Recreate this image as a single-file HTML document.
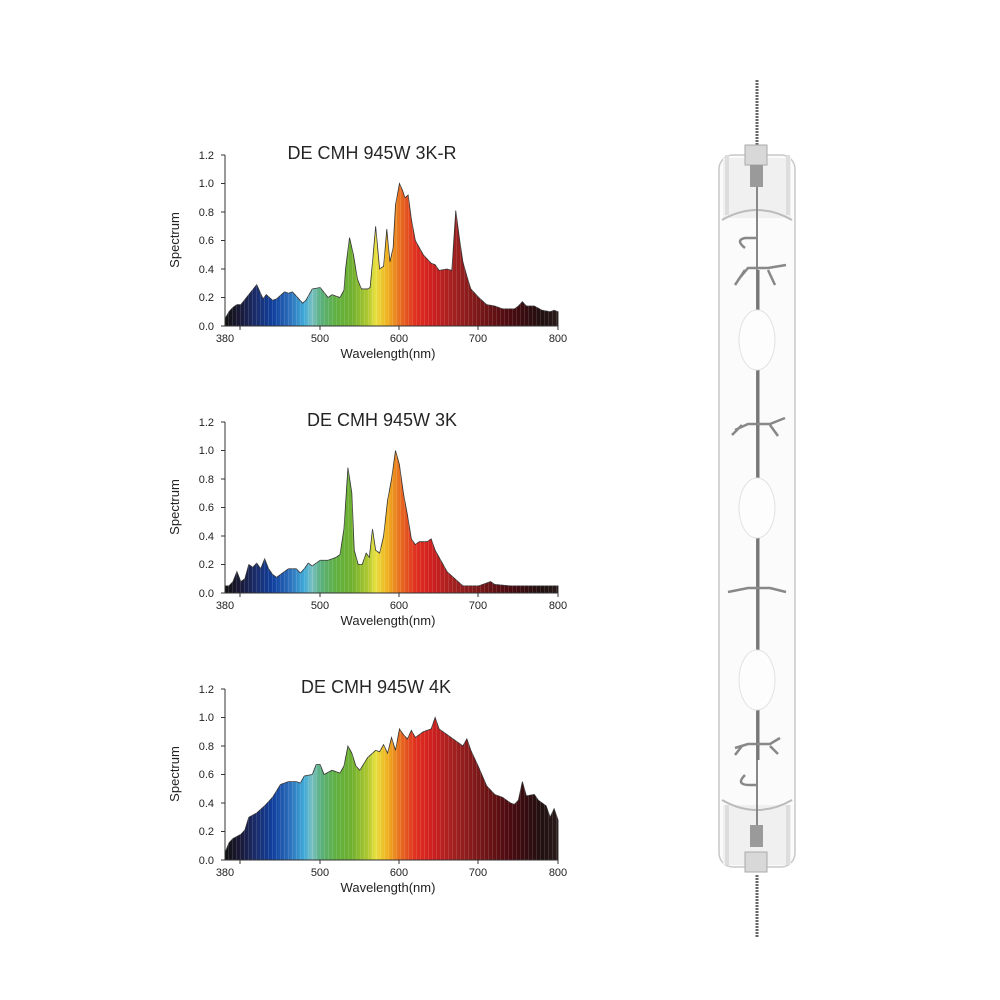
<!DOCTYPE html>
<html><head><meta charset="utf-8"><style>
html,body{margin:0;padding:0;background:#fff;}
svg{display:block;font-family:"Liberation Sans",sans-serif;}
</style></head><body>
<svg width="1000" height="1000" viewBox="0 0 1000 1000" xmlns="http://www.w3.org/2000/svg">
<defs>
<linearGradient id="sp" gradientUnits="userSpaceOnUse" x1="380" y1="0" x2="800" y2="0">
<stop offset="0" stop-color="#111"/>
<stop offset="0.048" stop-color="#1a1a3a"/>
<stop offset="0.095" stop-color="#1a2e6e"/>
<stop offset="0.143" stop-color="#10409e"/>
<stop offset="0.19" stop-color="#2a6ab8"/>
<stop offset="0.238" stop-color="#40aad8"/>
<stop offset="0.262" stop-color="#7ac0c0"/>
<stop offset="0.286" stop-color="#5ab080"/>
<stop offset="0.333" stop-color="#60b040"/>
<stop offset="0.381" stop-color="#70b030"/>
<stop offset="0.429" stop-color="#b0c830"/>
<stop offset="0.452" stop-color="#e8e040"/>
<stop offset="0.488" stop-color="#f0b020"/>
<stop offset="0.524" stop-color="#e87020"/>
<stop offset="0.571" stop-color="#e03020"/>
<stop offset="0.619" stop-color="#d02020"/>
<stop offset="0.690" stop-color="#a02020"/>
<stop offset="0.762" stop-color="#7a1818"/>
<stop offset="0.857" stop-color="#4a0a10"/>
<stop offset="0.952" stop-color="#201010"/>
<stop offset="1" stop-color="#2a1a1a"/>
</linearGradient>
<pattern id="stripes" patternUnits="userSpaceOnUse" width="4" height="10">
<rect x="0" y="0" width="1" height="10" fill="#fff" opacity="0.12"/>
</pattern>
</defs>

<!-- Chart 1 -->
<g>
<text x="372" y="159" font-size="18" text-anchor="middle" fill="#222">DE CMH 945W 3K-R</text>
<g transform="translate(225,326) scale(0.793,-142.5) translate(-380,0)">
<polygon fill="url(#sp)" stroke="#333" stroke-width="0.8" vector-effect="non-scaling-stroke" points="380,0 380,0.05 385,0.1 390,0.13 395,0.15 400,0.15 410,0.22 420,0.29 428,0.19 432,0.22 440,0.18 445,0.19 455,0.24 460,0.23 465,0.24 478,0.16 482,0.18 490,0.26 500,0.27 510,0.2 515,0.22 520,0.21 525,0.2 530,0.25 532,0.4 537,0.62 542,0.5 547,0.33 552,0.26 560,0.26 563,0.27 566,0.45 570,0.7 575,0.4 580,0.42 584,0.68 588,0.45 592,0.55 595,0.85 600,1.0 604,0.95 607,0.9 611,0.92 615,0.75 620,0.6 630,0.5 640,0.44 645,0.43 650,0.39 660,0.4 666,0.39 671,0.81 676,0.6 680,0.45 685,0.35 690,0.26 700,0.2 710,0.15 720,0.14 730,0.12 745,0.12 750,0.14 755,0.17 760,0.14 770,0.14 780,0.11 790,0.1 795,0.11 800,0.1 800,0"/>
</g>
<rect x="225" y="150" width="333" height="176" fill="url(#stripes)"/>
</g>

<!-- Chart 2 -->
<g>
<text x="382" y="426" font-size="18" text-anchor="middle" fill="#222">DE CMH 945W 3K</text>
<g transform="translate(225,593) scale(0.793,-142.5) translate(-380,0)">
<polygon fill="url(#sp)" stroke="#333" stroke-width="0.8" vector-effect="non-scaling-stroke" points="380,0 380,0.05 385,0.05 390,0.08 395,0.15 400,0.08 405,0.1 410,0.2 415,0.18 420,0.21 425,0.17 430,0.24 435,0.17 440,0.13 445,0.11 450,0.13 460,0.17 470,0.17 475,0.14 480,0.17 485,0.21 490,0.19 500,0.23 510,0.23 520,0.25 525,0.27 530,0.45 535,0.88 540,0.7 543,0.3 548,0.2 553,0.2 558,0.28 562,0.25 566,0.45 570,0.3 575,0.28 580,0.4 585,0.65 590,0.8 595,1.0 600,0.9 605,0.7 610,0.55 615,0.38 620,0.34 625,0.36 630,0.36 635,0.36 640,0.38 645,0.3 650,0.25 655,0.2 660,0.15 670,0.1 680,0.05 690,0.05 700,0.05 715,0.08 720,0.06 740,0.05 800,0.05 800,0"/>
</g>
<rect x="225" y="417" width="333" height="176" fill="url(#stripes)"/>
</g>

<!-- Chart 3 -->
<g>
<text x="376" y="693" font-size="18" text-anchor="middle" fill="#222">DE CMH 945W 4K</text>
<g transform="translate(225,860) scale(0.793,-142.5) translate(-380,0)">
<polygon fill="url(#sp)" stroke="#333" stroke-width="0.8" vector-effect="non-scaling-stroke" points="380,0 380,0.05 385,0.12 390,0.15 400,0.18 405,0.21 410,0.3 420,0.33 430,0.38 440,0.44 450,0.53 460,0.55 470,0.55 475,0.54 480,0.59 490,0.6 495,0.67 500,0.67 505,0.6 515,0.63 525,0.61 530,0.66 535,0.8 540,0.75 545,0.66 550,0.63 560,0.72 570,0.77 575,0.76 580,0.81 585,0.75 590,0.86 595,0.77 600,0.92 605,0.88 610,0.85 615,0.91 620,0.86 630,0.9 640,0.92 645,1.0 650,0.92 660,0.88 670,0.84 680,0.8 685,0.85 690,0.77 700,0.65 710,0.52 720,0.46 730,0.44 740,0.4 745,0.39 750,0.42 755,0.55 760,0.45 770,0.46 775,0.42 785,0.38 790,0.3 795,0.36 800,0.28 800,0"/>
</g>
<rect x="225" y="684" width="333" height="176" fill="url(#stripes)"/>
</g>

<!-- Axes for all three charts -->
<g stroke="#333" stroke-width="1" fill="none">
<path d="M225,155V326H558M221,155H225M221,183.5H225M221,212H225M221,240.5H225M221,269H225M221,297.5H225M221,326H225M240,326V330M320,326V330M399,326V330M478,326V330M558,326V330"/>
<path d="M225,422V593H558M221,422H225M221,450.5H225M221,479H225M221,507.5H225M221,536H225M221,564.5H225M221,593H225M240,593V597M320,593V597M399,593V597M478,593V597M558,593V597"/>
<path d="M225,689V860H558M221,689H225M221,717.5H225M221,746H225M221,774.5H225M221,803H225M221,831.5H225M221,860H225M240,860V864M320,860V864M399,860V864M478,860V864M558,860V864"/>
</g>
<g font-size="11" fill="#222" text-anchor="end">
<text x="214" y="159">1.2</text><text x="214" y="187">1.0</text><text x="214" y="216">0.8</text><text x="214" y="244">0.6</text><text x="214" y="273">0.4</text><text x="214" y="301">0.2</text><text x="214" y="330">0.0</text>
<text x="214" y="426">1.2</text><text x="214" y="454">1.0</text><text x="214" y="483">0.8</text><text x="214" y="511">0.6</text><text x="214" y="540">0.4</text><text x="214" y="568">0.2</text><text x="214" y="597">0.0</text>
<text x="214" y="693">1.2</text><text x="214" y="721">1.0</text><text x="214" y="750">0.8</text><text x="214" y="778">0.6</text><text x="214" y="807">0.4</text><text x="214" y="835">0.2</text><text x="214" y="864">0.0</text>
</g>
<g font-size="11" fill="#222" text-anchor="middle">
<text x="225" y="342">380</text><text x="320" y="342">500</text><text x="399" y="342">600</text><text x="478" y="342">700</text><text x="558" y="342">800</text>
<text x="225" y="609">380</text><text x="320" y="609">500</text><text x="399" y="609">600</text><text x="478" y="609">700</text><text x="558" y="609">800</text>
<text x="225" y="876">380</text><text x="320" y="876">500</text><text x="399" y="876">600</text><text x="478" y="876">700</text><text x="558" y="876">800</text>
<text x="388" y="358" font-size="13">Wavelength(nm)</text>
<text x="388" y="625" font-size="13">Wavelength(nm)</text>
<text x="388" y="892" font-size="13">Wavelength(nm)</text>
<text transform="translate(179,240) rotate(-90)" font-size="13">Spectrum</text>
<text transform="translate(179,507) rotate(-90)" font-size="13">Spectrum</text>
<text transform="translate(179,774) rotate(-90)" font-size="13">Spectrum</text>
</g>

<!-- Lamp -->
<g>
<path d="M757,80 L757,148" stroke="#666" stroke-width="3" stroke-dasharray="2,1"/>
<path d="M757,875 L757,938" stroke="#666" stroke-width="3" stroke-dasharray="2,1"/>
<rect x="719" y="155" width="76" height="712" rx="14" fill="#fbfbfb" stroke="#c8c8c8" stroke-width="1.5"/>
<rect x="723" y="158" width="68" height="60" fill="#f0f0f0"/>
<rect x="723" y="805" width="68" height="60" fill="#f0f0f0"/>
<rect x="725" y="155" width="4" height="60" fill="#ddd"/>
<rect x="786" y="155" width="4" height="60" fill="#ddd"/>
<rect x="725" y="805" width="4" height="60" fill="#ddd"/>
<rect x="786" y="805" width="4" height="60" fill="#ddd"/>
<path d="M722,220 Q757,200 792,220 M722,800 Q757,820 792,800" stroke="#bbb" stroke-width="2" fill="none"/>
<rect x="745" y="145" width="22" height="20" fill="#d8d8d8" stroke="#aaa"/>
<rect x="750" y="165" width="13" height="22" fill="#9a9a9a"/>
<rect x="750" y="825" width="13" height="22" fill="#9a9a9a"/>
<rect x="745" y="852" width="22" height="20" fill="#d8d8d8" stroke="#aaa"/>
<line x1="757" y1="187" x2="757" y2="825" stroke="#888" stroke-width="2"/>
<line x1="758" y1="270" x2="758" y2="760" stroke="#777" stroke-width="3"/>
<g fill="#fdfdfd" stroke="#e2e2e2" stroke-width="1">
<ellipse cx="757" cy="340" rx="18" ry="30"/>
<ellipse cx="757" cy="508" rx="18" ry="30"/>
<ellipse cx="757" cy="680" rx="18" ry="30"/>
</g>
<g stroke="#888" stroke-width="2.5" fill="none">
<path d="M738,280 L748,268 L768,268 L786,265 M745,270 L735,285 M768,270 L775,285"/>
<path d="M735,430 L748,424 L770,424 L785,418 M742,425 L732,435 M770,425 L778,436"/>
<path d="M728,592 L748,588 L770,588 L786,592"/>
<path d="M735,748 L748,744 L770,744 L780,738 M742,746 L735,755 M770,746 L778,754"/>
<path d="M745,248 Q735,240 745,238 L758,238"/>
<path d="M745,775 Q735,785 750,785 L758,785"/>
</g>
</g>
</svg>
</body></html>
